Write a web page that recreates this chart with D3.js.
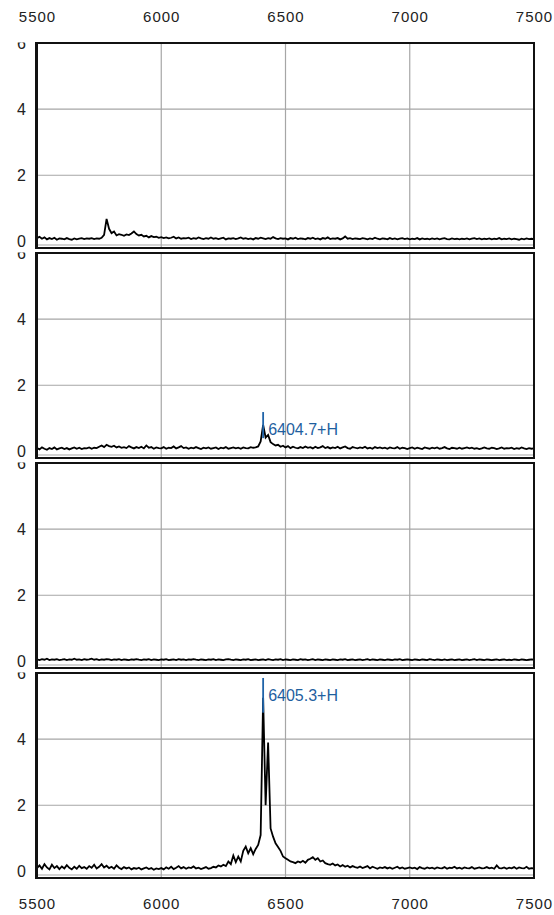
<!DOCTYPE html>
<html><head><meta charset="utf-8">
<script src="https://cdn.jsdelivr.net/npm/d3@7"></script>
<style>
html,body{margin:0;padding:0;background:#fff;}
svg{display:block;}
text{font-family:"Liberation Sans",Arial,sans-serif;}
</style></head>
<body>
<svg id="c" width="554" height="915"></svg>
<script>
// ---- data ----
const massStart = 5500, massStep = 10;
const xTicks = [5500, 6000, 6500, 7000, 7500];
const yTicks = [0, 2, 4, 6];

const spectrum1 = [
0.10,0.14,0.08,0.12,0.06,0.10,0.07,0.11,0.05,0.09,
0.08,0.06,0.10,0.07,0.05,0.09,0.06,0.08,0.10,0.07,
0.09,0.08,0.10,0.07,0.09,0.08,0.11,0.20,0.68,0.38,
0.25,0.30,0.18,0.22,0.20,0.17,0.21,0.19,0.24,0.30,
0.22,0.18,0.20,0.15,0.17,0.12,0.16,0.13,0.14,0.11,
0.13,0.10,0.12,0.09,0.11,0.14,0.09,0.12,0.08,0.10,
0.09,0.11,0.07,0.10,0.08,0.12,0.09,0.07,0.10,0.08,
0.12,0.08,0.10,0.07,0.09,0.11,0.06,0.09,0.08,0.10,
0.07,0.09,0.12,0.08,0.10,0.07,0.09,0.06,0.10,0.08,
0.11,0.09,0.07,0.10,0.08,0.13,0.09,0.07,0.10,0.08,
0.09,0.06,0.10,0.08,0.11,0.07,0.09,0.08,0.06,0.10,
0.08,0.11,0.07,0.09,0.06,0.10,0.08,0.12,0.07,0.09,
0.08,0.10,0.06,0.09,0.15,0.08,0.10,0.07,0.09,0.08,
0.07,0.10,0.08,0.06,0.09,0.07,0.11,0.08,0.06,0.09,
0.08,0.06,0.10,0.07,0.09,0.06,0.08,0.10,0.07,0.09,
0.06,0.08,0.07,0.10,0.06,0.09,0.07,0.08,0.06,0.09,
0.07,0.09,0.06,0.08,0.10,0.07,0.06,0.09,0.07,0.08,
0.06,0.08,0.07,0.09,0.06,0.08,0.10,0.07,0.09,0.06,
0.08,0.07,0.09,0.06,0.08,0.07,0.10,0.06,0.08,0.07,
0.09,0.06,0.08,0.07,0.05,0.08,0.06,0.09,0.07,0.08,
0.07];

const spectrum2 = [
0.10,0.06,0.12,0.08,0.05,0.10,0.07,0.12,0.06,0.09,
0.11,0.07,0.10,0.06,0.09,0.12,0.08,0.11,0.07,0.10,
0.09,0.12,0.08,0.11,0.10,0.14,0.18,0.13,0.20,0.16,
0.14,0.17,0.12,0.15,0.11,0.13,0.10,0.16,0.12,0.09,
0.13,0.10,0.14,0.09,0.18,0.11,0.13,0.08,0.12,0.10,
0.09,0.13,0.08,0.11,0.10,0.15,0.09,0.12,0.16,0.10,
0.12,0.08,0.11,0.09,0.13,0.10,0.07,0.11,0.09,0.12,
0.08,0.10,0.12,0.07,0.11,0.09,0.13,0.08,0.10,0.12,
0.09,0.11,0.08,0.12,0.10,0.09,0.13,0.11,0.12,0.15,
0.30,0.80,0.42,0.50,0.28,0.22,0.18,0.20,0.14,0.17,
0.12,0.16,0.10,0.14,0.11,0.09,0.13,0.10,0.15,0.11,
0.13,0.09,0.14,0.10,0.12,0.16,0.10,0.13,0.09,0.12,
0.10,0.14,0.09,0.12,0.15,0.10,0.08,0.13,0.11,0.09,
0.12,0.10,0.14,0.09,0.11,0.08,0.13,0.10,0.12,0.09,
0.11,0.08,0.12,0.10,0.09,0.13,0.08,0.11,0.10,0.07,
0.10,0.12,0.08,0.11,0.09,0.07,0.12,0.10,0.08,0.11,
0.09,0.12,0.08,0.10,0.13,0.09,0.07,0.11,0.10,0.08,
0.11,0.08,0.10,0.12,0.09,0.11,0.08,0.10,0.07,0.09,
0.12,0.09,0.08,0.11,0.10,0.07,0.09,0.12,0.08,0.10,
0.09,0.11,0.07,0.10,0.08,0.12,0.09,0.07,0.10,0.08,
0.09];

const spectrum3 = [
0.06,0.04,0.07,0.05,0.08,0.04,0.06,0.05,0.07,0.04,
0.05,0.07,0.04,0.06,0.05,0.08,0.05,0.06,0.04,0.07,
0.05,0.06,0.08,0.05,0.07,0.04,0.06,0.05,0.07,0.06,
0.04,0.06,0.05,0.07,0.04,0.06,0.05,0.04,0.06,0.05,
0.07,0.05,0.04,0.06,0.05,0.07,0.04,0.06,0.05,0.04,
0.06,0.05,0.07,0.04,0.05,0.06,0.04,0.07,0.05,0.06,
0.04,0.06,0.05,0.07,0.05,0.04,0.06,0.05,0.04,0.06,
0.05,0.07,0.04,0.06,0.05,0.04,0.06,0.07,0.05,0.04,
0.06,0.05,0.04,0.06,0.05,0.07,0.04,0.05,0.06,0.04,
0.05,0.06,0.04,0.07,0.05,0.04,0.06,0.05,0.07,0.04,
0.06,0.05,0.04,0.06,0.05,0.04,0.07,0.05,0.06,0.04,
0.05,0.07,0.04,0.06,0.05,0.04,0.06,0.05,0.04,0.06,
0.05,0.04,0.06,0.05,0.07,0.04,0.05,0.06,0.04,0.05,
0.06,0.04,0.05,0.07,0.04,0.06,0.05,0.04,0.06,0.05,
0.04,0.06,0.05,0.04,0.06,0.05,0.07,0.04,0.05,0.06,
0.05,0.04,0.06,0.05,0.04,0.06,0.05,0.04,0.07,0.05,
0.04,0.06,0.05,0.04,0.06,0.04,0.05,0.06,0.04,0.05,
0.06,0.04,0.05,0.06,0.04,0.05,0.07,0.04,0.06,0.05,
0.04,0.06,0.05,0.04,0.05,0.06,0.04,0.05,0.06,0.04,
0.05,0.04,0.06,0.05,0.04,0.06,0.05,0.04,0.05,0.06,
0.05];

const spectrum4 = [
0.10,0.18,0.08,0.22,0.12,0.06,0.20,0.10,0.16,0.07,
0.15,0.09,0.19,0.11,0.06,0.14,0.08,0.17,0.10,0.13,
0.08,0.16,0.11,0.20,0.09,0.14,0.22,0.12,0.17,0.10,
0.14,0.08,0.18,0.11,0.07,0.13,0.09,0.12,0.06,0.10,
0.08,0.11,0.06,0.09,0.12,0.07,0.10,0.05,0.09,0.07,
0.10,0.06,0.12,0.08,0.14,0.07,0.11,0.16,0.09,0.13,
0.08,0.12,0.10,0.15,0.09,0.11,0.07,0.10,0.13,0.08,
0.10,0.14,0.12,0.18,0.15,0.20,0.16,0.30,0.22,0.48,
0.28,0.45,0.30,0.62,0.75,0.55,0.70,0.52,0.68,0.80,
1.10,5.25,2.00,3.90,1.30,1.05,0.85,0.74,0.62,0.45,
0.40,0.35,0.30,0.28,0.25,0.30,0.27,0.32,0.26,0.35,
0.38,0.43,0.35,0.40,0.30,0.33,0.25,0.22,0.20,0.24,
0.18,0.21,0.15,0.19,0.14,0.17,0.12,0.16,0.13,0.11,
0.15,0.10,0.13,0.16,0.09,0.14,0.11,0.08,0.12,0.10,
0.13,0.09,0.12,0.08,0.11,0.14,0.09,0.12,0.08,0.10,
0.12,0.09,0.11,0.07,0.13,0.10,0.08,0.12,0.09,0.11,
0.08,0.12,0.10,0.09,0.13,0.08,0.11,0.10,0.14,0.09,
0.11,0.08,0.12,0.10,0.09,0.13,0.08,0.10,0.12,0.09,
0.10,0.13,0.09,0.11,0.08,0.18,0.10,0.09,0.12,0.08,
0.11,0.09,0.13,0.08,0.12,0.10,0.09,0.14,0.08,0.10,
0.09];

const spectra = [spectrum1, spectrum2, spectrum3, spectrum4];

// peak annotations: panel index, mass, marker top, marker bottom, label
const markerPanel  = [1, 3];
const markerMass   = [6410, 6410];
const markerTop    = [1.19, 5.85];
const markerBottom = [0.40, 4.80];
const markerLabel  = ["6404.7+H", "6405.3+H"];

// ---- drawing ----
const svg = d3.select("#c");
svg.append("rect").attr("width",554).attr("height",915).attr("fill","#fff");

const left = 37, right = 534, firstTop = 43, pitch = 210, ph = 205;
const x = d3.scaleLinear().domain([5500, 7500]).range([left, right]);
const gridColor = "#a6a6a6";

spectra.forEach((vals, i) => {
  const top = firstTop + i * pitch, bottom = top + ph;
  const y = d3.scaleLinear().domain([-0.2, 6]).range([bottom, top]);
  const g = svg.append("g");

  const cid = "clip" + i;
  svg.append("clipPath").attr("id", cid)
    .append("rect").attr("x", left).attr("y", top).attr("width", right - left).attr("height", ph);
  const lid = "lclip" + i;
  svg.append("clipPath").attr("id", lid)
    .append("rect").attr("x", 0).attr("y", top - 0.5).attr("width", left).attr("height", ph + 4);

  // grid
  g.selectAll(".vg").data(xTicks.filter(t => t > 5500 && t < 7500)).enter().append("line")
    .attr("x1", d => x(d)).attr("x2", d => x(d)).attr("y1", top).attr("y2", bottom)
    .attr("stroke", gridColor).attr("stroke-width", 1.2);
  g.selectAll(".hg").data(yTicks.filter(t => t > 0 && t < 6)).enter().append("line")
    .attr("x1", left).attr("x2", right).attr("y1", d => y(d)).attr("y2", d => y(d))
    .attr("stroke", gridColor).attr("stroke-width", 1.2);
  g.append("line").attr("x1", left).attr("x2", right)
    .attr("y1", bottom - 3).attr("y2", bottom - 3)
    .attr("stroke", gridColor).attr("stroke-width", 1.2);

  // spectrum
  const line = d3.line().x((d, k) => x(massStart + k * massStep)).y(d => y(d));
  g.append("path").datum(vals).attr("d", line)
    .attr("fill", "none").attr("stroke", "#000").attr("stroke-width", 1.8)
    .attr("stroke-linejoin", "miter").attr("clip-path", `url(#${cid})`);

  // markers
  markerPanel.forEach((p, m) => {
    if (p !== i) return;
    const mx = x(markerMass[m]);
    g.append("line").attr("x1", mx).attr("x2", mx)
      .attr("y1", y(markerTop[m])).attr("y2", y(markerBottom[m]))
      .attr("stroke", "#1f63a8").attr("stroke-width", 1.8);
    g.append("text").attr("x", mx + 5).attr("y", y(markerTop[m]) + 19)
      .attr("dominant-baseline", "middle")
      .attr("fill", "#1f5f9f").attr("font-size", 16)
      .text(markerLabel[m]);
  });

  // frame
  g.append("rect").attr("x", left).attr("y", top).attr("width", right - left).attr("height", ph)
    .attr("fill", "none").attr("stroke", "#111").attr("stroke-width", 2);
  g.append("line").attr("x1", left - 1).attr("x2", left - 1).attr("y1", top - 1).attr("y2", bottom + 1)
    .attr("stroke", "#111").attr("stroke-width", 2);

  // y axis labels (clipped at panel top like the original)
  const yg = svg.append("g").attr("clip-path", `url(#${lid})`);
  const yAx = yg.append("g").attr("transform", `translate(${left},0)`)
    .call(d3.axisLeft(y).tickValues(yTicks).tickSize(0).tickPadding(11).tickFormat(d3.format("d")));
  yAx.select(".domain").remove();
  yAx.selectAll("text").attr("font-size", 16).attr("fill", "#222")
    .attr("font-family", "Liberation Sans, Arial, sans-serif");
});

// x axes top and bottom
const topAx = svg.append("g").attr("transform", `translate(0,${firstTop})`)
  .call(d3.axisTop(x).tickValues(xTicks).tickSize(0).tickPadding(21).tickFormat(d3.format("d")));
const botY = firstTop + 3 * pitch + ph;
const botAx = svg.append("g").attr("transform", `translate(0,${botY})`)
  .call(d3.axisBottom(x).tickValues(xTicks).tickSize(0).tickPadding(20).tickFormat(d3.format("d")));
[topAx, botAx].forEach(a => {
  a.select(".domain").remove();
  a.selectAll("text").attr("font-size", 15).attr("fill", "#222")
    .attr("letter-spacing", 1).attr("font-family", "Liberation Sans, Arial, sans-serif");
});
</script>
</body></html>
